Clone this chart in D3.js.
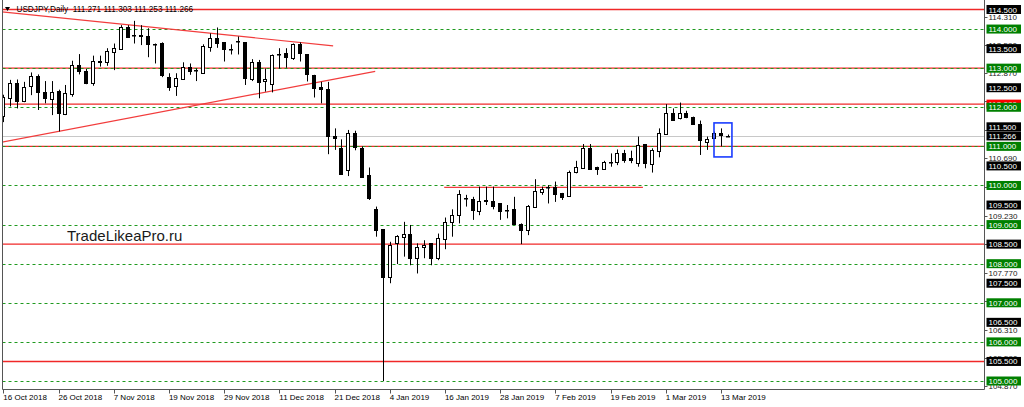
<!DOCTYPE html>
<html><head><meta charset="utf-8">
<script src="https://cdn.jsdelivr.net/npm/d3@7"></script>
<style>html,body{margin:0;padding:0;background:#fff;overflow:hidden}</style>
</head><body><svg id="c" width="1024" height="407"></svg>
<script>
// ---- data (USDJPY Daily, 16 Oct 2018 .. 14 Mar 2019) ----
const opens=[111.77,112.25,112.63,112.16,112.55,112.80,112.40,112.23,112.42,111.83,
112.33,113.08,112.93,112.63,113.16,113.17,113.42,113.51,114.06,113.83,
113.84,113.81,113.61,113.64,112.78,112.54,112.74,113.04,112.94,112.89,
113.55,113.78,113.66,113.48,113.70,113.66,112.74,113.17,112.65,112.61,
113.34,113.38,113.25,113.61,113.35,112.83,112.53,112.47,111.26,110.97,
110.41,111.33,110.97,110.27,109.40,108.88,107.65,108.51,108.69,108.76,
108.14,108.42,108.52,108.14,108.63,109.07,109.24,109.68,109.65,109.36,
109.62,109.61,109.54,109.36,109.39,109.01,108.86,109.47,109.84,109.97,
109.97,109.81,109.73,110.34,110.46,110.97,110.48,110.44,110.61,110.61,
110.84,110.69,110.57,111.06,110.55,110.89,111.33,111.86,111.72,111.86,
111.74,111.57,111.12,111.20,111.35,111.271];
const highs=[112.32,112.70,112.71,112.65,112.89,112.84,112.67,112.67,112.45,112.57,
113.19,113.36,112.98,113.32,113.32,113.51,113.63,114.10,114.10,114.21,
114.10,114.02,113.63,113.66,112.87,112.87,113.15,113.12,112.99,113.61,
113.89,114.04,113.66,113.61,113.81,113.66,113.23,113.21,112.99,113.35,
113.51,113.51,113.63,113.66,113.35,112.83,112.65,112.65,111.46,111.18,
111.42,111.40,111.00,110.46,109.46,108.88,108.56,108.73,109.07,108.99,
108.52,108.60,108.52,108.77,109.18,109.39,109.88,109.76,109.71,109.97,
109.97,109.97,109.54,109.50,109.71,109.03,109.50,110.16,109.97,110.01,
110.10,109.81,110.38,110.63,111.06,111.06,110.48,110.63,110.82,110.92,
110.91,110.89,111.25,111.06,110.95,111.46,112.08,111.97,112.12,111.91,
111.76,111.66,111.25,111.38,111.46,111.303];
const lows=[111.62,112.02,111.97,112.13,112.31,111.93,112.10,111.80,111.38,111.80,
112.27,112.84,112.59,112.55,113.04,113.06,112.95,113.48,113.78,113.63,
113.59,113.28,113.12,112.77,112.42,112.29,112.70,112.83,112.67,112.87,
113.42,113.52,113.17,113.35,113.35,112.57,112.67,112.23,112.40,112.38,
112.99,113.01,113.21,113.17,112.66,112.25,112.10,110.80,110.91,110.27,
110.24,110.90,110.20,109.63,108.69,105.00,107.50,107.99,108.18,107.96,
107.75,108.14,107.96,108.09,108.37,108.69,109.03,109.46,109.12,109.24,
109.50,109.39,109.12,109.16,109.01,108.50,108.73,109.44,109.76,109.54,
109.58,109.63,109.71,110.31,110.44,110.41,110.27,110.41,110.48,110.52,
110.58,110.57,110.48,110.44,110.33,110.72,111.32,111.67,111.69,111.72,
111.55,110.78,110.91,111.22,111.00,111.253];
const closes=[112.25,112.63,112.16,112.53,112.80,112.40,112.25,112.40,111.85,112.36,
113.08,112.93,112.63,113.18,113.19,113.44,113.51,114.06,113.81,113.84,
113.82,113.61,113.60,112.83,112.53,112.74,113.04,112.94,112.95,113.57,
113.78,113.66,113.48,113.49,113.70,112.74,113.17,112.65,112.71,113.34,
113.35,113.27,113.61,113.38,112.83,112.50,112.48,111.26,111.20,110.31,
111.35,110.97,110.22,109.67,108.86,107.65,108.48,108.70,108.76,108.14,
108.42,108.48,108.14,108.65,109.07,109.24,109.77,109.67,109.36,109.61,
109.64,109.47,109.33,109.37,109.01,108.86,109.47,109.87,109.92,109.97,
109.80,109.70,110.35,110.46,110.97,110.44,110.44,110.61,110.60,110.84,
110.65,110.63,111.03,110.57,110.91,111.35,111.86,111.69,111.86,111.76,
111.57,111.15,111.20,111.33,111.29,111.266];

const dateLabels=["16 Oct 2018","26 Oct 2018","7 Nov 2018","19 Nov 2018","29 Nov 2018","11 Dec 2018","21 Dec 2018","4 Jan 2019","16 Jan 2019","28 Jan 2019","7 Feb 2019","19 Feb 2019","1 Mar 2019","13 Mar 2019"];
const dateTickIndex=[0,8,16,24,32,40,48,56,64,72,80,88,96,104];

const greenLevels=[114,113,112,111,110,109,108,107,106,105];
const blackLevels=[114.5,113.5,112.5,111.5,110.5,109.5,108.5,107.5,106.5,105.5];
const redLevels=[114.5,113.0,112.08,111.0,108.5,105.5];
const redLabel=[112.08];
const gridLabels=[114.31,113.59,112.87,110.69,109.23,107.77,106.31,105.59,104.87];
const gridTicks=[114.31,113.59,112.87,112.15,111.43,110.69,109.96,109.23,108.50,107.77,107.04,106.31,105.59,104.87];
const bidPrice=111.266;
const headerText="USDJPY,Daily  111.271 111.303 111.253 111.266";
const watermark="TradeLikeaPro.ru";
// trend lines: [index0, price0, index1, price1]
const trendLines=[[-0.2,114.44,47.8,113.57],[-0.2,111.11,53.9,112.92],[63.9,109.95,92.7,109.95]];
const markBox=[103.0,111.60,105.6,110.73];

// ---- scales ----
const svg=d3.select("#c");
const x=d3.scaleLinear().domain([0,105]).range([3.3,727.8]);
const y=d3.scaleLinear().domain([105,114.5]).range([381,9.5]);
const axisX=984.5, bottomY=389.5, leftX=2.5;
const font="'Liberation Sans', Arial, sans-serif";
const cr=v=>Math.round(v)+0.5;

svg.append("defs").append("clipPath").attr("id","plot").append("rect")
  .attr("x",leftX).attr("y",0).attr("width",axisX-leftX).attr("height",bottomY);
const plot=svg.append("g").attr("clip-path","url(#plot)");

// bid line
plot.append("line").attr("x1",leftX).attr("x2",axisX).attr("y1",cr(y(bidPrice))).attr("y2",cr(y(bidPrice)))
  .attr("stroke","#c8c8c8").attr("stroke-width",1);

// red horizontal lines
plot.selectAll("line.red").data(redLevels).join("line").attr("class","red")
  .attr("x1",leftX).attr("x2",axisX).attr("y1",d=>y(d)).attr("y2",d=>y(d))
  .attr("stroke","#f02828").attr("stroke-width",1.4);

// green dotted lines
plot.selectAll("line.grn").data(greenLevels).join("line").attr("class","grn")
  .attr("x1",leftX).attr("x2",axisX).attr("y1",d=>cr(y(d))).attr("y2",d=>cr(y(d)))
  .attr("stroke","#1f9a1f").attr("stroke-width",1).attr("stroke-dasharray","3,3");

// trend lines
plot.selectAll("line.tl").data(trendLines).join("line").attr("class","tl")
  .attr("x1",d=>x(d[0])).attr("y1",d=>y(d[1])).attr("x2",d=>x(d[2])).attr("y2",d=>y(d[3]))
  .attr("stroke","#f23c3c").attr("stroke-width",1.2);

// candles
const idx=d3.range(opens.length);
const cg=plot.append("g");
cg.selectAll("line.wick").data(idx).join("line").attr("class","wick")
  .attr("x1",i=>cr(x(i))).attr("x2",i=>cr(x(i)))
  .attr("y1",i=>y(highs[i])).attr("y2",i=>y(lows[i]))
  .attr("stroke","#000").attr("stroke-width",1);
cg.selectAll("rect.body").data(idx).join("rect").attr("class","body")
  .attr("x",i=>Math.round(x(i))-1.5).attr("width",3)
  .attr("y",i=>Math.round(y(Math.max(opens[i],closes[i])))+0.5)
  .attr("height",i=>Math.max(0.5,Math.round(Math.abs(y(opens[i])-y(closes[i])))))
  .attr("fill",i=>closes[i]>=opens[i]?"#fff":"#000")
  .attr("stroke","#000").attr("stroke-width",1);

// marker box
plot.append("rect").attr("x",x(markBox[0])).attr("y",y(markBox[1]))
  .attr("width",x(markBox[2])-x(markBox[0])).attr("height",y(markBox[3])-y(markBox[1]))
  .attr("fill","none").attr("stroke","#1a3cff").attr("stroke-width",1.6);

// watermark
svg.append("text").attr("x",67).attr("y",241).text(watermark)
  .attr("font-family",font).attr("font-size",15).attr("fill","#1a1a1a");

// header
svg.append("path").attr("d","M5,7 L10,7 L7.5,11 Z").attr("fill","#000");
svg.append("text").attr("x",16.5).attr("y",12).text(headerText)
  .attr("font-family",font).attr("font-size",8.2).attr("fill","#000")
  .style("white-space","pre");

// frame
svg.append("path").attr("d",`M${leftX},0 V${bottomY} H${axisX} V0`)
  .attr("fill","none").attr("stroke","#555").attr("stroke-width",1);

// bottom axis
const bx=svg.append("g");
bx.selectAll("line").data(dateTickIndex).join("line")
  .attr("x1",i=>cr(x(i))).attr("x2",i=>cr(x(i))).attr("y1",bottomY).attr("y2",bottomY+4)
  .attr("stroke","#555");
bx.selectAll("text").data(dateTickIndex).join("text")
  .attr("x",i=>x(i)).attr("y",400).text((i,k)=>dateLabels[k])
  .attr("font-family",font).attr("font-size",8).attr("fill","#000");

// right axis grid ticks and labels
const ry=svg.append("g");
ry.selectAll("line").data(gridTicks).join("line")
  .attr("x1",axisX).attr("x2",axisX+3).attr("y1",d=>cr(y(d))).attr("y2",d=>cr(y(d))).attr("stroke","#555");
ry.selectAll("text").data(gridLabels).join("text")
  .attr("x",988.5).attr("y",d=>y(d)+3).text(d=>d.toFixed(3))
  .attr("font-family",font).attr("font-size",8).attr("fill","#222");

function boxes(levels,color,fmt){
  const g=svg.append("g");
  g.selectAll("rect").data(levels).join("rect")
    .attr("x",986.5).attr("y",d=>y(d)-4.5).attr("width",34.5).attr("height",9)
    .attr("fill",color);
  g.selectAll("text").data(levels).join("text")
    .attr("x",988.5).attr("y",d=>y(d)+3).text(fmt)
    .attr("font-family",font).attr("font-size",8).attr("fill","#fff");
}
boxes(redLabel,"#ff0000",d=>d.toFixed(3));
boxes(blackLevels,"#000",d=>d.toFixed(3));
boxes(greenLevels,"#008000",d=>d.toFixed(3));
boxes([bidPrice],"#000",d=>d.toFixed(3));
</script>
</body></html>
